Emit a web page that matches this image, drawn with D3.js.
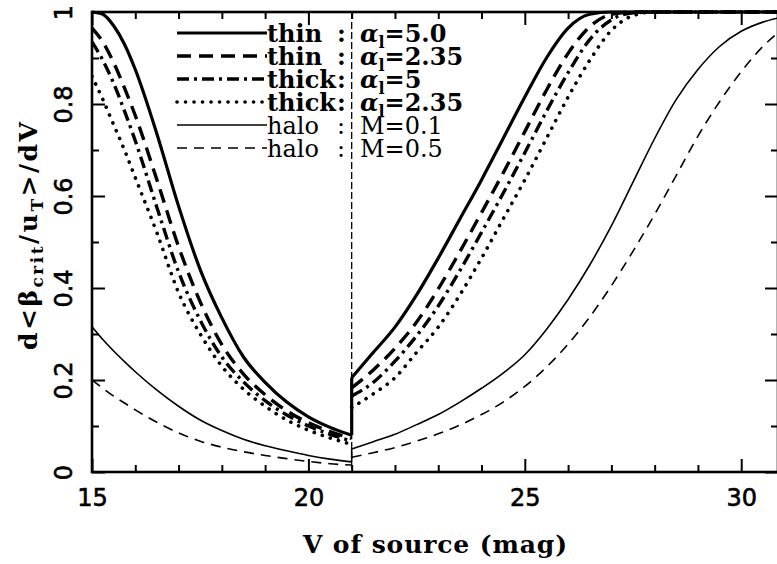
<!DOCTYPE html>
<html>
<head>
<meta charset="utf-8">
<script src="https://cdn.jsdelivr.net/npm/d3@7"></script>
<style>
  html, body { margin: 0; padding: 0; background: #fff; }
  svg { display: block; }
</style>
</head>
<body>
<svg id="chart" width="777" height="564"></svg>
<script>
// Source magnitude grids for the two branches (bright side / faint side of V = 21)
const vLeft  = [15, 15.25, 15.5, 15.75, 16, 16.5, 17, 17.5, 18, 18.5, 19, 19.5, 20, 20.5, 21];
const vRight = [21, 21.5, 22, 22.5, 23, 23.5, 24, 24.5, 25, 25.5, 26, 26.5, 27, 27.5, 28, 28.5, 29, 29.5, 30, 30.5, 30.85];
const vBreak = 21;

// d<beta_crit/u_T>/dV for each population
const thin50Left   = [1.0, 0.995, 0.97, 0.93, 0.875, 0.735, 0.578, 0.44, 0.335, 0.25, 0.195, 0.152, 0.12, 0.097, 0.08];
const thin235Left  = [0.965, 0.935, 0.89, 0.835, 0.775, 0.635, 0.49, 0.37, 0.277, 0.213, 0.168, 0.133, 0.107, 0.088, 0.073];
const thick5Left   = [0.935, 0.895, 0.845, 0.785, 0.72, 0.575, 0.435, 0.33, 0.25, 0.196, 0.155, 0.124, 0.1, 0.082, 0.067];
const thick235Left = [0.86, 0.81, 0.755, 0.7, 0.64, 0.52, 0.39, 0.3, 0.23, 0.18, 0.143, 0.113, 0.091, 0.074, 0.06];
const halo01Left   = [0.316, 0.288, 0.263, 0.24, 0.218, 0.178, 0.143, 0.113, 0.09, 0.071, 0.057, 0.046, 0.036, 0.028, 0.022];
const halo05Left   = [0.2, 0.182, 0.165, 0.15, 0.135, 0.108, 0.085, 0.067, 0.054, 0.044, 0.036, 0.029, 0.023, 0.018, 0.015];

const thin50Right   = [0.205, 0.26, 0.315, 0.385, 0.465, 0.55, 0.635, 0.725, 0.815, 0.9, 0.965, 0.995, 1, 1, 1, 1, 1, 1, 1, 1, 1];
const thin235Right  = [0.183, 0.222, 0.269, 0.326, 0.398, 0.479, 0.564, 0.65, 0.74, 0.83, 0.91, 0.968, 0.995, 1, 1, 1, 1, 1, 1, 1, 1];
const thick5Right   = [0.165, 0.195, 0.241, 0.296, 0.361, 0.438, 0.521, 0.606, 0.694, 0.784, 0.868, 0.94, 0.983, 0.998, 1, 1, 1, 1, 1, 1, 1];
const thick235Right = [0.14, 0.17, 0.205, 0.26, 0.315, 0.385, 0.465, 0.55, 0.635, 0.725, 0.815, 0.895, 0.96, 0.992, 1, 1, 1, 1, 1, 1, 1];
const halo01Right   = [0.05, 0.066, 0.082, 0.103, 0.125, 0.152, 0.182, 0.215, 0.255, 0.31, 0.375, 0.45, 0.535, 0.63, 0.725, 0.81, 0.875, 0.925, 0.958, 0.978, 0.987];
const halo05Right   = [0.032, 0.042, 0.053, 0.067, 0.083, 0.102, 0.125, 0.152, 0.186, 0.228, 0.278, 0.337, 0.405, 0.48, 0.56, 0.645, 0.73, 0.805, 0.87, 0.925, 0.955];

// Legend text
const legendNames  = ["thin", "thin", "thick", "thick", "halo", "halo"];
const legendSymbol = ["α", "α", "α", "α", "M", "M"];
const legendParams = ["5.0", "2.35", "5", "2.35", "0.1", "0.5"];

// Axis ticks
const xMajorTicks = [15, 20, 25, 30];
const xMinorTicks = [16, 17, 18, 19, 21, 22, 23, 24, 26, 27, 28, 29];
const yMajorTicks = [0, 0.2, 0.4, 0.6, 0.8, 1];
const yMinorTicks = [0.1, 0.3, 0.5, 0.7, 0.9];
const yTickLabels = ["0", "0.2", "0.4", "0.6", "0.8", "1"];

const svg = d3.select("#chart");
const W = 777, H = 564;
const plot = { left: 92, right: 778, top: 12, bottom: 472 };

const x = d3.scaleLinear().domain([15, 30.85]).range([plot.left, plot.right]);
const y = d3.scaleLinear().domain([0, 1]).range([plot.bottom, plot.top]);

svg.append("rect").attr("width", W).attr("height", H).attr("fill", "#fff");

svg.append("defs").append("clipPath").attr("id", "plotClip")
  .append("rect")
  .attr("x", plot.left).attr("y", plot.top - 2)
  .attr("width", plot.right - plot.left).attr("height", plot.bottom - plot.top + 2);

// Line styles per population
const styles = {
  thin50:   { width: 3.2, dash: null,          cap: "butt"  },
  thin235:  { width: 3.4, dash: "14,8",        cap: "butt"  },
  thick5:   { width: 3.4, dash: "12,5,3,5",    cap: "butt"  },
  thick235: { width: 3.6, dash: "0.1,8.4",     cap: "round" },
  halo01:   { width: 1.6, dash: null,          cap: "butt"  },
  halo05:   { width: 1.6, dash: "10,7",        cap: "butt"  }
};

const series = [
  { key: "thin50",   left: thin50Left,   right: thin50Right,   joined: true  },
  { key: "thin235",  left: thin235Left,  right: thin235Right,  joined: false },
  { key: "thick5",   left: thick5Left,   right: thick5Right,   joined: false },
  { key: "thick235", left: thick235Left, right: thick235Right, joined: false },
  { key: "halo01",   left: halo01Left,   right: halo01Right,   joined: true  },
  { key: "halo05",   left: halo05Left,   right: halo05Right,   joined: false }
];

const line = d3.line()
  .x(d => x(d[0]))
  .y(d => y(d[1]))
  .curve(d3.curveMonotoneX);

const curves = svg.append("g").attr("clip-path", "url(#plotClip)").attr("fill", "none").attr("stroke", "#000");

// Boundary between the two branches
curves.append("line")
  .attr("x1", x(vBreak)).attr("x2", x(vBreak))
  .attr("y1", y(1)).attr("y2", y(0))
  .attr("stroke-width", 1.3)
  .attr("stroke-dasharray", "7,3");

series.forEach(s => {
  const st = styles[s.key];
  const apply = sel => sel
    .attr("stroke-width", st.width)
    .attr("stroke-linecap", st.cap)
    .attr("stroke-dasharray", st.dash);
  apply(curves.append("path").attr("d", line(vLeft.map((v, i) => [v, s.left[i]]))));
  apply(curves.append("path").attr("d", line(vRight.map((v, i) => [v, s.right[i]]))));
  if (s.joined) {
    curves.append("line")
      .attr("x1", x(vBreak)).attr("x2", x(vBreak))
      .attr("y1", y(s.left[s.left.length - 1]))
      .attr("y2", y(s.right[0]))
      .attr("stroke-width", st.width);
  }
});

// Axes (ticks pointing into the frame)
const tickFont = "'DejaVu Sans', sans-serif";

const xAxisMajor = d3.axisBottom(x).tickValues(xMajorTicks).tickSize(-13).tickPadding(17).tickFormat(d3.format("d"));
const xAxisMinor = d3.axisBottom(x).tickValues(xMinorTicks).tickSize(-7).tickFormat("");
const xTopMajor  = d3.axisTop(x).tickValues(xMajorTicks).tickSize(-13).tickFormat("");
const xTopMinor  = d3.axisTop(x).tickValues(xMinorTicks).tickSize(-7).tickFormat("");

const yAxisMajor = d3.axisLeft(y).tickValues(yMajorTicks).tickSize(-13).tickFormat((d, i) => yTickLabels[i]);
const yAxisMinor = d3.axisLeft(y).tickValues(yMinorTicks).tickSize(-7).tickFormat("");
const yRightMajor = d3.axisRight(y).tickValues(yMajorTicks).tickSize(-13).tickFormat("");
const yRightMinor = d3.axisRight(y).tickValues(yMinorTicks).tickSize(-7).tickFormat("");

function styleAxis(g) {
  g.select(".domain").remove();
  g.selectAll(".tick line").attr("stroke", "#000").attr("stroke-width", 2);
  g.selectAll(".tick text").attr("fill", "#000")
    .style("font-family", tickFont).style("font-size", "24px")
    .attr("stroke", "#000").attr("stroke-width", 0.6);
}

svg.append("g").attr("transform", `translate(0,${plot.bottom})`).call(xAxisMajor).call(styleAxis);
svg.append("g").attr("transform", `translate(0,${plot.bottom})`).call(xAxisMinor).call(styleAxis);
svg.append("g").attr("transform", `translate(0,${plot.top})`).call(xTopMajor).call(styleAxis);
svg.append("g").attr("transform", `translate(0,${plot.top})`).call(xTopMinor).call(styleAxis);

const yLeft = svg.append("g").attr("transform", `translate(${plot.left},0)`).call(yAxisMajor).call(styleAxis);
yLeft.selectAll(".tick text")
  .attr("transform", "rotate(-90)")
  .attr("x", 0).attr("y", -20).attr("dy", 0)
  .attr("text-anchor", "middle");
svg.append("g").attr("transform", `translate(${plot.left},0)`).call(yAxisMinor).call(styleAxis);
svg.append("g").attr("transform", `translate(${plot.right},0)`).call(yRightMajor).call(styleAxis);
svg.append("g").attr("transform", `translate(${plot.right},0)`).call(yRightMinor).call(styleAxis);

// Frame
svg.append("rect")
  .attr("x", plot.left).attr("y", plot.top)
  .attr("width", plot.right - plot.left).attr("height", plot.bottom - plot.top)
  .attr("fill", "none").attr("stroke", "#000").attr("stroke-width", 2.6);

// Axis titles, centred on the frame
const titleFont = "'DejaVu Serif', serif";
svg.append("text")
  .attr("x", (plot.left + plot.right) / 2).attr("y", 553)
  .attr("text-anchor", "middle")
  .attr("textLength", 264).attr("lengthAdjust", "spacing")
  .style("font-family", titleFont).style("font-size", "25px").style("font-weight", "bold")
  .text("V of source (mag)");

const yTitle = svg.append("text")
  .attr("transform", "translate(37,350) rotate(-90)")
  .attr("textLength", 228).attr("lengthAdjust", "spacing")
  .style("font-family", titleFont).style("font-size", "25px").style("font-weight", "bold");
yTitle.append("tspan").text("d<β");
yTitle.append("tspan").attr("dy", 6).style("font-size", "17px").text("crit");
yTitle.append("tspan").attr("dy", -6).text("/u");
yTitle.append("tspan").attr("dy", 6).style("font-size", "17px").text("T");
yTitle.append("tspan").attr("dy", -6).text(">/dV");

// Legend
const legend = svg.append("g");
series.forEach((s, i) => {
  const st = styles[s.key];
  const ly = 33 + 23 * i;
  const bold = i < 4 ? "bold" : "normal";
  legend.append("line")
    .attr("x1", 177).attr("x2", 267).attr("y1", ly).attr("y2", ly)
    .attr("stroke", "#000")
    .attr("stroke-width", st.width)
    .attr("stroke-linecap", st.cap)
    .attr("stroke-dasharray", st.dash);
  const font = sel => sel
    .style("font-family", "'DejaVu Serif', serif")
    .style("font-size", "24px")
    .style("font-weight", bold)
    .attr("fill", "#000");
  legend.append("text").attr("x", 267).attr("y", ly + 9).call(font).text(legendNames[i]);
  legend.append("text").attr("x", 337).attr("y", ly + 9).call(font).text(":");
  const t = legend.append("text").attr("x", 360).attr("y", ly + 9).call(font);
  if (legendSymbol[i] === "α") {
    t.append("tspan").style("font-style", "italic").text("α");
    t.append("tspan").attr("dy", 6).style("font-size", "16px").text("l");
    t.append("tspan").attr("dy", -6).text("=" + legendParams[i]);
  } else {
    t.append("tspan").text(legendSymbol[i] + "=" + legendParams[i]);
  }
});
</script>
</body>
</html>
